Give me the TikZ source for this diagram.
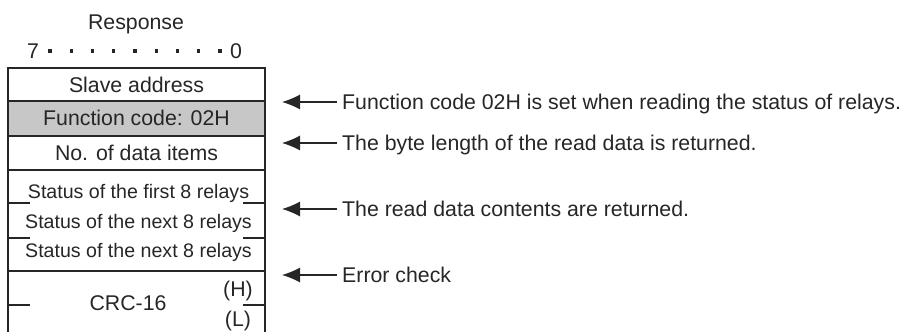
\documentclass[tikz,border=0pt]{standalone}
\usepackage{fontspec}
\setmainfont{Liberation Sans}
\usetikzlibrary{arrows.meta}
\begin{document}
\begin{tikzpicture}[x=1pt,y=-1pt,
  frame/.style={line width=1.2pt, draw=black!85},
  txt/.style={inner sep=0pt, text height=15pt, text depth=0pt, font=\fontsize{21.3}{25}\selectfont, text=black!85},
  stxt/.style={inner sep=0pt, text height=14pt, text depth=0pt, font=\fontsize{19.6}{23}\selectfont, text=black!85},
  lab/.style={txt, anchor=west},
  arr/.style={line width=1.1pt, draw=black!85, -{Latex[length=18pt,width=15pt]}, shorten <=5pt},
  bitdot/.style={fill=black!85, inner sep=0pt, minimum size=3.2pt, draw=none}
]
\useasboundingbox (0,0) rectangle (910,332);
% shaded row
\fill[black!22] (8,101) rectangle (265,136);
% outer frame and separators
\draw[frame] (8,332) -- (8,68) -- (265,68) -- (265,332);
\draw[frame] (8,101) -- (265,101);
\draw[frame] (8,136) -- (265,136);
\draw[frame] (8,170) -- (265,170);
\draw[frame] (8,271) -- (265,271);
\foreach \yy in {203,238,305}{
  \draw[frame] (8,\yy) -- (30,\yy);
  \draw[frame] (243,\yy) -- (265,\yy);
}
% header
\node[txt] (resp) at (136,21.5) {Response};
\node[txt] (b7) at (33,51) {7};
\node[txt] (b0) at (236,51) {0};
\foreach \k in {0,...,8}{
  \node[bitdot] (d\k) at ({50+21.25*\k},51) {};
}
% row texts
\node[txt] (slave) at (136.5,85) {Slave address};
\node[txt] (fc) at (136.5,118) {Function code: 02H};
\node[txt] (nd) at (136.5,152.5) {No. of data items};
\node[stxt] (s1) at (138.5,191) {Status of the first 8 relays};
\node[stxt] (s2) at (138.5,221) {Status of the next 8 relays};
\node[stxt] (s3) at (138.5,250) {Status of the next 8 relays};
\node[txt] (crc) at (128,303) {CRC-16};
\node[txt] (hi) at (238,289) {(H)};
\node[txt] (lo) at (238,318.5) {(L)};
% explanations
\coordinate (a1) at (282,102);
\coordinate (a2) at (282,143);
\coordinate (a3) at (282,209);
\coordinate (a4) at (282,275);
\node[lab] (t1) at (342,102) {Function code 02H is set when reading the status of relays.};
\node[lab] (t2) at (342,143) {The byte length of the read data is returned.};
\node[lab] (t3) at (342,209) {The read data contents are returned.};
\node[lab] (t4) at (342,275) {Error check};
\draw[arr] (t1.west) -- (a1);
\draw[arr] (t2.west) -- (a2);
\draw[arr] (t3.west) -- (a3);
\draw[arr] (t4.west) -- (a4);
\end{tikzpicture}
\end{document}
